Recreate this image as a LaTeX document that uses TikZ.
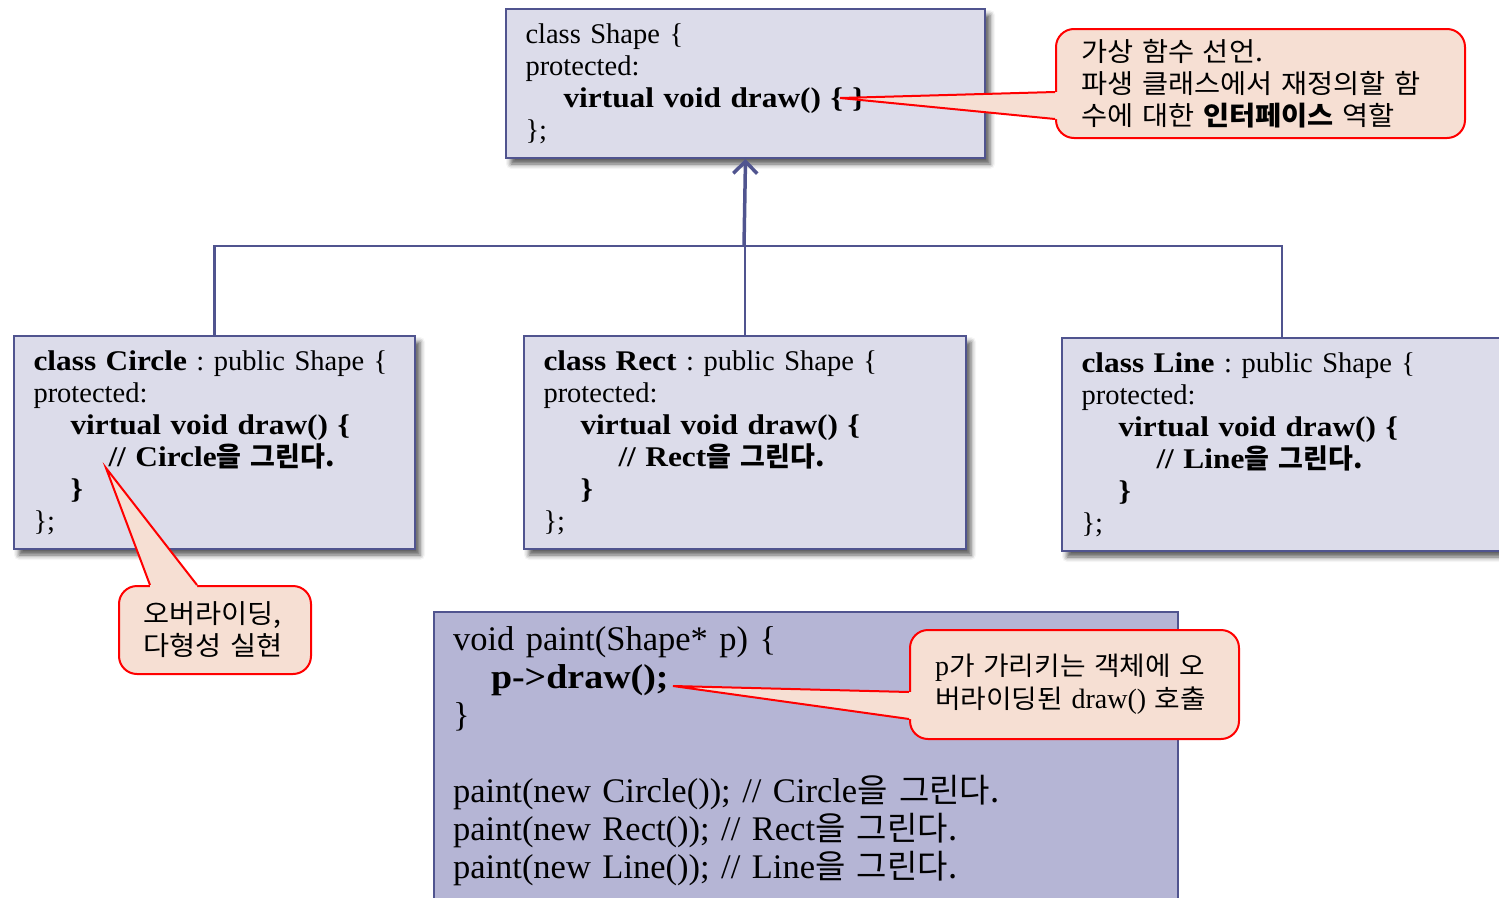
\documentclass[tikz,border=0pt]{standalone}
\usepackage{fontspec}
\setmainfont{Liberation Serif}[WordSpace=0.8, BoldFeatures={FakeStretch=1.1}]
\newfontfamily\kr{Noto Sans CJK KR}
\newfontfamily\krnote{Noto Sans CJK KR}[FakeStretch=1.07]
\usetikzlibrary{arrows.meta,shadows.blur,calc}

\definecolor{boxfill}{HTML}{DCDCEA}
\definecolor{boxline}{HTML}{50548F}
\definecolor{paintfill}{HTML}{B5B5D5}
\definecolor{notefill}{HTML}{F6DFD3}
\definecolor{notered}{HTML}{FF0000}

% Korean words inside the code listings
\newcommand\krcode[1]{{\kr\fontsize{27}{32}\selectfont #1}}
\newcommand\krpaint[1]{{\kr\fontsize{33}{38}\selectfont #1}}

\tikzset{
  codebox/.style={draw=boxline, line width=2pt, fill=boxfill, anchor=north west,
    inner xsep=19.5pt, inner ysep=0pt, align=left,
    font=\frenchspacing\fontsize{28.5}{32}\selectfont,
    blur shadow={shadow xshift=5pt, shadow yshift=-6pt, shadow blur radius=5pt, shadow opacity=65}},
  paintbox/.style={draw=boxline, line width=2pt, fill=paintfill, anchor=north west,
    inner xsep=19pt, inner ysep=0pt, align=left,
    font=\frenchspacing\fontsize{34.5}{38}\selectfont},
  notebox/.style={draw=notered, line width=2pt, fill=notefill, rounded corners=18pt,
    anchor=north west, inner xsep=25pt, inner ysep=0pt, align=left,
    font=\frenchspacing\krnote\fontsize{26.5}{32}\selectfont},
  treeline/.style={draw=boxline, line width=2.5pt},
  inherit/.style={draw=boxline, line width=3.5pt, -{Straight Barb[length=12pt,width=24pt]}},
  pointerfill/.style={fill=notefill},
  pointerline/.style={draw=notered, line width=2pt},
}

\begin{document}
\begin{tikzpicture}[x=1pt,y=-1pt]
\useasboundingbox (0,0) rectangle (1499,897);
\clip (0,0) rectangle (1499,897);

% base class
\node[codebox, minimum width=479pt, minimum height=149pt, text width=440pt] (shape) at (505,8) {%
class Shape \{\\
protected:\\
\hspace*{38pt}{\bfseries virtual void draw() \{ \}}\\
\};};

% derived classes
\node[codebox, minimum width=401pt, minimum height=213pt, text width=362pt] (circle) at (13,335) {%
{\bfseries class Circle} : public Shape \{\\
protected:\\
\hspace*{37pt}{\bfseries virtual void draw() \{}\\
\hspace*{75pt}{\bfseries // Circle\krcode{\bfseries 을 그린다.}}\\
\hspace*{37pt}{\bfseries \}}\\
\};};

\node[codebox, minimum width=442pt, minimum height=213pt, text width=403pt] (rect) at (523,335) {%
{\bfseries class Rect} : public Shape \{\\
protected:\\
\hspace*{37pt}{\bfseries virtual void draw() \{}\\
\hspace*{75pt}{\bfseries // Rect\krcode{\bfseries 을 그린다.}}\\
\hspace*{37pt}{\bfseries \}}\\
\};};

\node[codebox, minimum width=440pt, minimum height=213pt, text width=401pt] (line) at (1061,337) {%
{\bfseries class Line} : public Shape \{\\
protected:\\
\hspace*{37pt}{\bfseries virtual void draw() \{}\\
\hspace*{75pt}{\bfseries // Line\krcode{\bfseries 을 그린다.}}\\
\hspace*{37pt}{\bfseries \}}\\
\};};

% inheritance tree
\coordinate (junc) at (744,246);
\draw[treeline] (circle.north) |- (junc);
\draw[treeline] (line.north) |- (junc);
\draw[treeline] (rect.north) -- (rect.north |- junc);
\draw[inherit] (junc) -- (shape.south);

% polymorphic call
\node[paintbox, minimum width=744pt, minimum height=289pt, text width=706pt] (paint) at (433,611) {%
void paint(Shape* p) \{\\
\hspace*{38pt}{\bfseries p->draw();}\\
\}\\
\mbox{}\\
paint(new Circle()); // Circle\krpaint{을 그린다.}\\
paint(new Rect()); // Rect\krpaint{을 그린다.}\\
paint(new Line()); // Line\krpaint{을 그린다.}};

% notes
\node[notebox, minimum width=409pt, minimum height=109pt, text width=359pt] (note1) at (1055,28) {%
\mbox{가상 함수 선언.}\\
\mbox{파생 클래스에서 재정의할 함}\\
\mbox{수에 대한 {\bfseries 인터페이스} 역할}};

\node[notebox, minimum width=192pt, minimum height=88pt, text width=144pt, inner xsep=24pt] (note2) at (118,585) {%
\mbox{오버라이딩,}\\
\mbox{다형성 실현}};

\node[notebox, minimum width=329pt, minimum height=109pt, text width=279pt, font=\frenchspacing\krnote\fontsize{26}{33}\selectfont] (note3) at (909,629) {%
\mbox{{\rmfamily\fontsize{28}{33}\selectfont p}가 가리키는 객체에 오}\\
\mbox{버라이딩된 {\rmfamily\fontsize{28}{33}\selectfont draw()} 호출}};

% note pointers
\coordinate (tip1) at (840,98);
\coordinate (a1) at (1055,92);
\coordinate (b1) at (1055,119);
\fill[pointerfill] ($(a1)+(4,0)$) -- (a1) -- (tip1) -- (b1) -- ($(b1)+(4,0)$) -- cycle;
\draw[pointerline] (a1) -- (tip1) -- (b1);

\coordinate (tip2) at (106,468);
\coordinate (a2) at (150,585);
\coordinate (b2) at (197,585);
\fill[pointerfill] ($(a2)+(0,4)$) -- (a2) -- (tip2) -- (b2) -- ($(b2)+(0,4)$) -- cycle;
\draw[pointerline] (a2) -- (tip2) -- (b2);

\coordinate (tip3) at (673,686);
\coordinate (a3) at (909,692);
\coordinate (b3) at (909,719);
\fill[pointerfill] ($(a3)+(4,0)$) -- (a3) -- (tip3) -- (b3) -- ($(b3)+(4,0)$) -- cycle;
\draw[pointerline] (a3) -- (tip3) -- (b3);
\end{tikzpicture}
\end{document}
